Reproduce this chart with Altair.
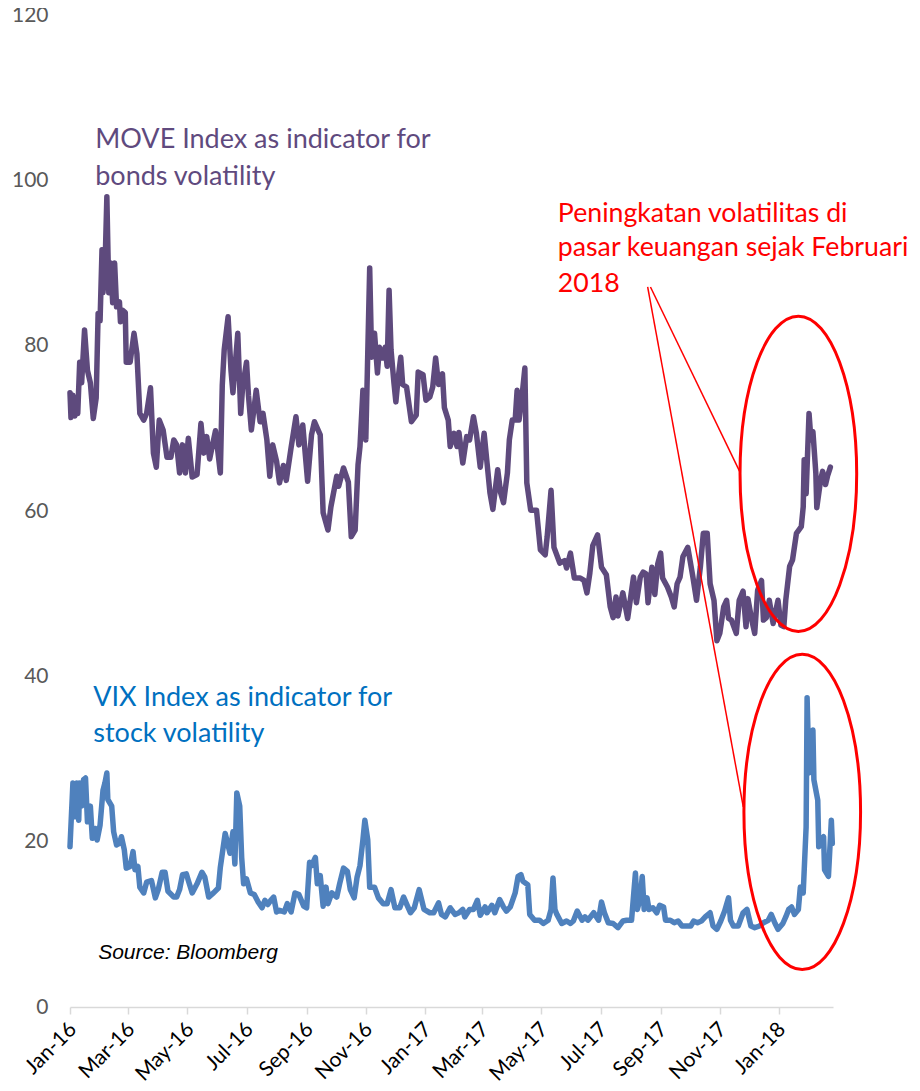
import altair as alt
import pandas as pd

BASE = pd.Timestamp("2016-01-01")

# MOVE index: days since 2016-01-01 and index value
move_day = [0, 1, 3, 5, 7, 8, 10, 12, 15, 18,
            21, 24, 27, 29, 31, 33, 34, 36, 38, 40,
            42, 44, 46, 48, 51, 52, 54, 57, 58, 62,
            66, 69, 72, 76, 79, 83, 86, 89, 92, 96,
            100, 104, 107, 110, 113, 116, 119, 122, 126, 131,
            135, 138, 141, 144, 150, 155, 157, 159, 163, 166,
            168, 171, 173, 176, 178, 182, 184, 187, 192, 196,
            199, 203, 206, 209, 213, 216, 220, 223, 228, 233,
            236, 240, 245, 249, 252, 258, 261, 266, 269, 275,
            277, 282, 287, 290, 294, 297, 299, 302, 305, 309,
            311, 314, 317, 319, 322, 325, 327, 329, 331, 334,
            336, 338, 341, 343, 347, 352, 357, 359, 364, 367,
            371, 374, 377, 380, 384, 386, 390, 392, 396, 399,
            401, 405, 409, 412, 416, 419, 423, 427, 430, 433,
            436, 441, 444, 447, 451, 453, 456, 459, 461, 463,
            466, 469, 471, 475, 481, 485, 490, 492, 496, 499,
            505, 510, 512, 516, 520, 526, 530, 533, 536, 539,
            544, 548, 553, 557, 560, 563, 565, 570, 575, 581,
            584, 588, 591, 594, 596, 600, 603, 606, 609, 611,
            616, 620, 623, 626, 629, 632, 637, 642, 646, 650,
            653, 657, 660, 664, 667, 670, 674, 677, 679, 682,
            687, 690, 694, 697, 699, 703, 706, 709, 713, 715,
            718, 721, 725, 730, 733, 736, 738, 742, 745, 749,
            754, 756, 757, 759, 762, 764, 766, 769, 770, 774,
            776, 779, 781, 784]
move_val = [74.3, 71.3, 74.0, 71.5, 73.5, 71.8, 78.0, 75.5, 81.9, 77.0,
            75.5, 71.2, 73.7, 83.9, 83.0, 91.6, 86.4, 89.0, 98.0, 86.4,
            90.0, 85.2, 90.0, 84.7, 85.3, 82.9, 84.3, 84.0, 78.0, 78.0,
            81.5, 79.0, 71.8, 71.0, 71.8, 74.9, 67.0, 65.3, 71.0, 69.8,
            66.5, 66.5, 68.6, 68.0, 64.6, 68.0, 64.6, 68.8, 64.1, 64.4,
            70.6, 67.0, 69.0, 66.3, 69.7, 64.6, 75.2, 79.5, 83.5, 77.0,
            74.3, 78.6, 81.5, 71.8, 75.0, 78.0, 74.0, 69.8, 74.6, 70.8,
            71.8, 68.6, 64.2, 68.0, 66.0, 63.4, 65.5, 63.7, 67.7, 71.4,
            68.0, 70.4, 63.6, 69.2, 70.8, 69.2, 59.8, 57.7, 60.5, 64.2,
            63.0, 65.2, 63.5, 56.9, 57.7, 65.6, 67.8, 74.6, 68.6, 89.4,
            78.6, 81.5, 76.7, 79.8, 78.5, 79.8, 77.5, 86.7, 79.5, 75.5,
            73.2, 75.7, 78.6, 75.3, 75.0, 70.8, 71.6, 76.8, 76.5, 73.4,
            73.8, 75.0, 78.5, 75.3, 76.6, 72.5, 71.0, 67.8, 69.4, 67.8,
            69.5, 65.8, 69.0, 68.6, 71.4, 69.4, 65.3, 69.4, 65.8, 62.2,
            60.2, 65.0, 62.2, 61.0, 64.6, 68.6, 71.0, 71.0, 74.6, 71.0,
            73.8, 77.3, 63.4, 60.1, 60.1, 55.3, 54.7, 56.9, 62.5, 55.6,
            53.7, 54.0, 53.1, 54.9, 51.9, 51.9, 51.6, 50.1, 52.5, 55.8,
            57.1, 53.2, 52.3, 48.4, 47.1, 49.6, 47.3, 50.1, 47.0, 52.0,
            48.9, 52.0, 52.6, 52.4, 48.9, 53.2, 49.9, 53.6, 54.9, 51.9,
            50.8, 49.6, 48.4, 51.2, 52.0, 54.5, 55.6, 52.2, 49.2, 53.3,
            57.3, 57.3, 51.2, 49.2, 44.3, 45.2, 48.4, 49.2, 47.0, 46.8,
            45.2, 49.2, 50.3, 46.0, 49.4, 46.8, 45.2, 50.4, 51.6, 46.8,
            47.1, 49.2, 46.4, 49.2, 46.2, 46.0, 49.2, 53.3, 54.1, 57.3,
            58.1, 60.5, 66.2, 62.1, 71.8, 68.6, 69.6, 64.6, 60.4, 63.8,
            64.8, 63.2, 64.2, 65.3]

# VIX index: days since 2016-01-01 and index value
vix_day = [0, 3, 5, 7, 9, 10, 12, 14, 16, 18,
           21, 23, 26, 28, 31, 34, 36, 38, 39, 43,
           45, 48, 51, 53, 56, 58, 62, 65, 67, 70,
           72, 76, 79, 84, 88, 91, 95, 98, 101, 107,
           110, 113, 116, 120, 122, 126, 131, 136, 139, 143,
           148, 153, 155, 160, 165, 168, 170, 172, 175, 177,
           179, 182, 186, 190, 194, 198, 201, 204, 207, 210,
           213, 216, 221, 224, 228, 232, 236, 241, 244, 247,
           249, 253, 255, 258, 261, 264, 266, 270, 275, 278,
           282, 286, 289, 293, 296, 299, 302, 304, 307, 309,
           314, 318, 323, 327, 331, 335, 340, 344, 348, 351,
           355, 357, 360, 365, 371, 375, 380, 383, 387, 392,
           397, 401, 405, 407, 412, 416, 420, 423, 428, 430,
           435, 438, 443, 447, 450, 454, 459, 462, 465, 467,
           472, 474, 479, 484, 488, 493, 496, 498, 500, 502,
           507, 512, 516, 519, 523, 528, 531, 534, 540, 545,
           548, 551, 555, 560, 565, 570, 574, 579, 583, 585,
           588, 590, 592, 595, 597, 601, 605, 608, 612, 614,
           619, 623, 627, 631, 636, 640, 643, 647, 651, 655,
           660, 663, 667, 671, 675, 679, 681, 684, 689, 694,
           698, 702, 706, 711, 715, 720, 723, 727, 730, 735,
           738, 741, 744, 747, 751, 753, 756, 759, 760, 762,
           766, 767, 771, 772, 774, 777, 778, 782, 785, 786]
vix_val = [19.4, 27.1, 23.0, 27.1, 22.6, 27.1, 24.3, 27.5, 27.7, 22.4,
           24.3, 20.4, 21.6, 20.2, 22.0, 26.2, 27.1, 28.3, 25.1, 24.3,
           21.2, 19.6, 19.8, 20.6, 19.0, 16.8, 17.0, 18.8, 16.6, 17.0,
           14.5, 13.8, 15.1, 15.3, 13.2, 14.2, 16.3, 16.3, 14.0, 13.3,
           13.3, 14.2, 16.0, 16.1, 15.3, 13.8, 14.9, 16.3, 15.7, 13.3,
           13.8, 14.4, 16.9, 21.0, 18.6, 21.2, 17.3, 25.9, 24.3, 18.1,
           14.9, 15.5, 13.8, 13.6, 12.7, 12.0, 12.9, 12.4, 12.9, 13.3,
           11.5, 11.7, 11.5, 12.5, 11.5, 13.8, 13.6, 12.2, 12.0, 17.5,
           17.1, 18.1, 14.9, 15.9, 12.2, 14.5, 12.5, 13.8, 13.3, 14.9,
           16.8, 16.4, 14.2, 13.2, 15.7, 17.1, 20.2, 22.6, 20.2, 14.5,
           14.5, 13.2, 12.5, 12.5, 14.2, 12.0, 12.0, 13.3, 12.2, 11.4,
           12.0, 12.9, 14.2, 11.8, 11.4, 11.4, 12.6, 11.2, 10.9, 12.0,
           11.2, 11.4, 11.8, 10.9, 11.8, 11.8, 12.9, 11.1, 12.1, 11.4,
           12.3, 11.4, 13.0, 12.1, 11.6, 12.1, 13.8, 15.8, 16.0, 15.2,
           14.8, 11.2, 10.5, 10.5, 10.1, 10.5, 11.8, 15.6, 11.8, 11.2,
           10.1, 10.4, 10.1, 10.4, 11.6, 10.5, 10.9, 10.5, 11.4, 10.5,
           12.7, 11.4, 10.2, 10.1, 9.6, 10.4, 10.5, 10.5, 16.2, 11.8,
           13.2, 15.8, 11.8, 13.2, 11.8, 12.0, 11.4, 12.3, 12.1, 10.5,
           10.5, 10.2, 10.4, 9.8, 9.8, 9.8, 10.4, 10.2, 10.4, 10.9,
           11.4, 9.8, 9.4, 10.4, 11.6, 13.2, 10.5, 9.8, 9.8, 11.4,
           11.8, 9.8, 9.6, 9.8, 10.2, 10.5, 11.2, 10.1, 9.4, 10.1,
           10.9, 11.8, 12.1, 11.2, 11.8, 14.5, 13.8, 21.8, 37.4, 28.3,
           33.5, 27.5, 25.0, 19.4, 20.2, 20.6, 16.6, 15.8, 22.6, 19.8]

# Axis ticks
y_ticks = [0, 20, 40, 60, 80, 100, 120]
x_tick_months = [(2016, 1), (2016, 3), (2016, 5), (2016, 7), (2016, 9), (2016, 11),
                 (2017, 1), (2017, 3), (2017, 5), (2017, 7), (2017, 9), (2017, 11),
                 (2018, 1)]

# Annotation texts (day offset, value at baseline, text)
move_label_lines = ["MOVE Index as indicator for", "bonds volatility"]
move_label_day = [26, 26]
move_label_val = [103.9, 99.4]
vix_label_lines = ["VIX Index as indicator for", "stock volatility"]
vix_label_day = [24, 24]
vix_label_val = [36.4, 32.0]
note_lines = ["Peningkatan volatilitas di", "pasar keuangan sejak Februari", "2018"]
note_day = [503, 503, 503]
note_val = [95.0, 90.8, 86.5]
source_text = ["Source: Bloomberg"]
source_day = [29]
source_val = [6.5]

# Highlight ellipses (centre day, centre value) and connector lines
ellipse_day = [751, 755]
ellipse_val = [64.5, 23.6]
conn_day = [598.5, 595.6]
conn_val = [87.1, 87.1]
conn_day2 = [690.8, 694.2]
conn_val2 = [64.7, 24.2]


def to_dates(days):
    return [BASE + pd.Timedelta(days=float(d)) for d in days]


move_df = pd.DataFrame({"date": to_dates(move_day), "value": move_val})
vix_df = pd.DataFrame({"date": to_dates(vix_day), "value": vix_val})
move_lab_df = pd.DataFrame({"date": to_dates(move_label_day), "value": move_label_val, "label": move_label_lines})
vix_lab_df = pd.DataFrame({"date": to_dates(vix_label_day), "value": vix_label_val, "label": vix_label_lines})
note_df = pd.DataFrame({"date": to_dates(note_day), "value": note_val, "label": note_lines})
src_df = pd.DataFrame({"date": to_dates(source_day), "value": source_val, "label": source_text})
ell_df = pd.DataFrame({"date": to_dates(ellipse_day), "value": ellipse_val})
conn_df = pd.DataFrame({"date": to_dates(conn_day), "value": conn_val,
                        "date2": to_dates(conn_day2), "value2": conn_val2})

FONT = "Lato"

x_scale = alt.Scale(domain=[alt.DateTime(year=2016, month=1, date=1),
                            alt.DateTime(year=2018, month=2, date=25, hours=17)])
y_scale = alt.Scale(domain=[0, 120], nice=False, zero=True)

x_axis = alt.Axis(
    values=[alt.DateTime(year=y, month=m, date=1) for (y, m) in x_tick_months],
    format="%b-%y", labelAngle=-45, labelAlign="right", labelBaseline="middle",
    labelFont=FONT, labelFontSize=21, labelColor="#000000", labelPadding=12,
    labelOffset=3, tickColor="#d9d9d9", tickSize=7, tickWidth=1.5,
    domainColor="#d9d9d9", domainWidth=1.5, grid=False, title=None,
    labelOverlap=False, labelFlush=False,
)
y_axis = alt.Axis(
    values=y_ticks, domain=False, ticks=False, grid=False, title=None,
    labelFont=FONT, labelFontSize=21, labelColor="#595959", labelPadding=22,
)

X = alt.X("date:T", scale=x_scale, axis=x_axis)
Y = alt.Y("value:Q", scale=y_scale, axis=y_axis)

move_line = alt.Chart(move_df).mark_line(
    color="#5e4a7d", strokeWidth=5.5, strokeJoin="round", strokeCap="round"
).encode(x=X, y=Y)

vix_line = alt.Chart(vix_df).mark_line(
    color="#4f81bd", strokeWidth=5.5, strokeJoin="round", strokeCap="round"
).encode(x=X, y=Y)

ELLIPSE = "M -0.37 0 A 0.37 1 0 1 0 0.37 0 A 0.37 1 0 1 0 -0.37 0 Z"
ellipses = alt.Chart(ell_df).mark_point(
    shape=ELLIPSE, size=99400, filled=False, stroke="#ff0000", strokeWidth=3, opacity=1
).encode(x=X, y=Y)

connectors = alt.Chart(conn_df).mark_rule(color="#ff0000", strokeWidth=1.5).encode(
    x=X, y=Y, x2="date2:T", y2="value2:Q"
)

move_text = alt.Chart(move_lab_df).mark_text(
    align="left", baseline="alphabetic", font=FONT, fontSize=27, color="#5f4a7e"
).encode(x=X, y=Y, text="label:N")

vix_text = alt.Chart(vix_lab_df).mark_text(
    align="left", baseline="alphabetic", font=FONT, fontSize=27, color="#0070c0"
).encode(x=X, y=Y, text="label:N")

note_text = alt.Chart(note_df).mark_text(
    align="left", baseline="alphabetic", font=FONT, fontSize=26.7, color="#ff0000"
).encode(x=X, y=Y, text="label:N")

src_text = alt.Chart(src_df).mark_text(
    align="left", baseline="middle", font="Liberation Sans", fontSize=21,
    fontStyle="italic", color="#000000"
).encode(x=X, y=Y, text="label:N")

chart = alt.layer(
    move_line, vix_line, connectors, ellipses, move_text, vix_text, note_text, src_text
).properties(
    width=763, height=992,
    autosize=alt.AutoSizeParams(type="none"),
    padding={"left": 62, "top": 7, "right": 79, "bottom": 80},
    background="white",
).configure_view(stroke=None)

chart.save("out.html", embed_options={"renderer": "svg", "actions": False})
